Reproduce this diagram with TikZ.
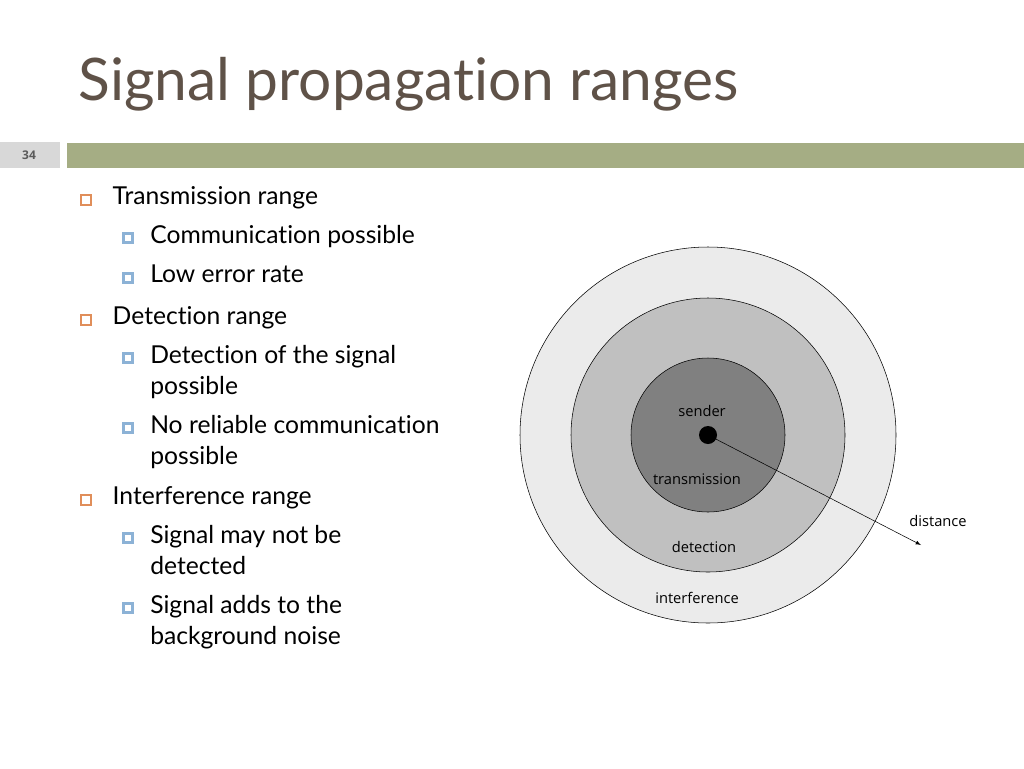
\documentclass[tikz,border=0pt]{standalone}
\usepackage{fontspec}
\setmainfont{Lato}[Ligatures=NoCommon]
\newfontfamily\txt{Open Sans}
\definecolor{ttl}{RGB}{95,82,72}
\definecolor{nbox}{RGB}{216,216,216}
\definecolor{ntxt}{RGB}{90,90,90}
\definecolor{bar}{RGB}{165,173,132}
\definecolor{bora}{RGB}{224,142,90}
\definecolor{bblu}{RGB}{140,178,214}
\definecolor{c1}{RGB}{235,235,235}
\definecolor{c2}{RGB}{192,192,192}
\definecolor{c3}{RGB}{128,128,128}
\begin{document}
\begin{tikzpicture}[x=0.75pt,y=-0.75pt,
  t1/.style={anchor=west,font=\fontsize{18.5}{20}\selectfont,text=black},
  t2/.style={anchor=north west,font=\fontsize{18.5}{23}\selectfont,text=black,align=left,inner sep=0pt},
  lab/.style={font=\txt\fontsize{11}{12}\selectfont}]
\useasboundingbox (0,0) rectangle (1024,768);
\fill[white] (0,0) rectangle (1024,768);
\node[anchor=west,font=\fontsize{44}{46}\selectfont,text=ttl] (title) at (74,84) {Signal propagation ranges};
\fill[nbox] (0,142) rectangle (60,168);
\node[font=\txt\bfseries\fontsize{9}{10}\selectfont,text=ntxt] (num) at (29,155) {34};
\fill[bar] (67,143) rectangle (1024,168);
\def\bA#1{\draw[bora,line width=0.8pt] (#1) ++(-5,-5) rectangle ++(10,10);}
\def\bB#1{\fill[bblu] (#1) ++(-6,-6) rectangle ++(12,12); \fill[white] (#1) ++(-3,-3) rectangle ++(6,6);}
\foreach \y/\s in {198/Transmission range,318/Detection range,498/Interference range}{
  \bA{86,\y+2} \node[t1] at (108,\y) {\s};}
\foreach \y/\s in {237/Communication possible,277/Low error rate,357/{Detection of the signal\\possible},427/{No reliable communication\\possible},537/{Signal may not be\\detected},607/{Signal adds to the\\background noise}}{
  \bB{128,\y+1} \node[t2] at (150,\y-12) {\s};}
\draw[fill=c1] (708,435) circle (188);
\draw[fill=c2] (708,435) circle (137);
\draw[fill=c3] (708,435) circle (77);
\fill (708,435) circle (9);
\coordinate (c) at (708,435);
\coordinate (e) at (921,545);
\draw[-latex] (c) -- (e);
\node[lab] (s) at (702,411) {sender};
\node[lab] (tr) at (697,479) {transmission};
\node[lab] (de) at (704,547) {detection};
\node[lab] (in) at (697,598) {interference};
\node[lab] (di) at (938,521) {distance};
\end{tikzpicture}
\end{document}
